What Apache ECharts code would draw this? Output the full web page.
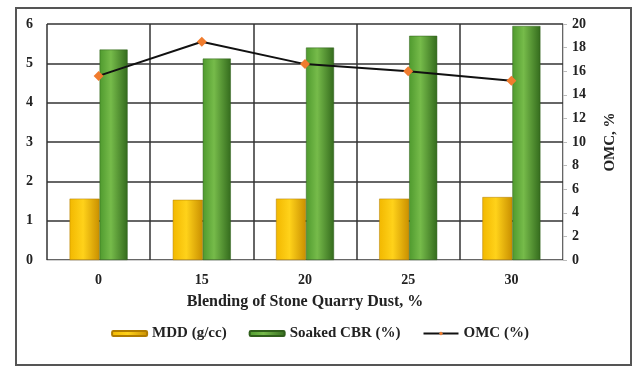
<!DOCTYPE html>
<html>
<head>
<meta charset="utf-8">
<script src="https://cdn.jsdelivr.net/npm/echarts@6/dist/echarts.min.js"></script>
<style>
  html, body { margin: 0; padding: 0; background: #fff; }
  #frame { position: absolute; left: 15px; top: 7px; width: 617px; height: 359px; border: 2px solid #555; box-sizing: border-box; }
  #chart { position: absolute; left: 0; top: 0; width: 640px; height: 369px; }
</style>
</head>
<body>
<div id="frame"></div>
<div id="chart"></div>
<script>
    // values
    var blending = ['0', '15', '20', '25', '30'];
    var mdd = [1.56, 1.53, 1.56, 1.56, 1.60];
    var soakedCbr = [5.35, 5.12, 5.40, 5.70, 5.95];
    var omc = [15.6, 18.5, 16.6, 16.0, 15.2];

    var font = 'Liberation Serif';

    var chart = echarts.init(document.getElementById('chart'));

    // bar fills, a bit of shading left to right
    var gold = new echarts.graphic.LinearGradient(0, 0, 1, 0, [
        {offset: 0, color: '#f2b800'},
        {offset: 0.45, color: '#ffd21a'},
        {offset: 1, color: '#c98f00'}
    ]);
    var green = new echarts.graphic.LinearGradient(0, 0, 1, 0, [
        {offset: 0, color: '#4f9a2e'},
        {offset: 0.4, color: '#76bb4a'},
        {offset: 1, color: '#346b1d'}
    ]);

    var option = {
        animation: false,
        textStyle: {fontFamily: font},
        grid: {left: 47, right: 77, top: 24, bottom: 109},
        legend: {
            top: 321,
            left: 'center',
            itemWidth: 35,
            itemHeight: 5,
            itemGap: 22,
            textStyle: {fontFamily: font, fontWeight: 'bold', fontSize: 15, color: '#222'},
            data: ['MDD (g/cc)', 'Soaked CBR (%)', 'OMC (%)']
        },
        xAxis: {
            type: 'category',
            data: blending,
            name: 'Blending of Stone Quarry Dust, %',
            nameLocation: 'middle',
            nameGap: 34,
            nameTextStyle: {fontFamily: font, fontWeight: 'bold', fontSize: 16, color: '#222'},
            axisLine: {lineStyle: {color: '#d0d0d0'}},
            axisTick: {show: false},
            axisLabel: {fontFamily: font, fontWeight: 'bold', fontSize: 14, color: '#222', margin: 13},
            splitLine: {show: true, lineStyle: {color: '#333', width: 1.5}}
        },
        yAxis: [
            {
                type: 'value',
                min: 0,
                max: 6,
                interval: 1,
                axisLine: {show: false},
                axisTick: {show: false},
                axisLabel: {fontFamily: font, fontWeight: 'bold', fontSize: 14, color: '#222', margin: 14},
                splitLine: {lineStyle: {color: '#333', width: 1.5}}
            },
            {
                type: 'value',
                min: 0,
                max: 20,
                interval: 2,
                name: 'OMC, %',
                nameLocation: 'middle',
                nameGap: 40,
                nameTextStyle: {fontFamily: font, fontWeight: 'bold', fontSize: 15, color: '#222'},
                axisLine: {show: true, lineStyle: {color: '#d0d0d0'}},
                axisTick: {show: true, length: 4, lineStyle: {color: '#bbb'}},
                axisLabel: {fontFamily: font, fontWeight: 'bold', fontSize: 14, color: '#222', margin: 9},
                splitLine: {show: false}
            }
        ],
        series: [
            {
                name: 'MDD (g/cc)',
                type: 'bar',
                data: mdd,
                barWidth: 30,
                barGap: '0%',
                itemStyle: {color: gold, borderColor: '#b07c00', borderWidth: 0.5}
            },
            {
                name: 'Soaked CBR (%)',
                type: 'bar',
                data: soakedCbr,
                barWidth: 28,
                barGap: '0%',
                itemStyle: {color: green, borderColor: '#2f5e1a', borderWidth: 0.5}
            },
            {
                name: 'OMC (%)',
                type: 'line',
                yAxisIndex: 1,
                data: omc,
                symbol: 'diamond',
                symbolSize: 10,
                z: 5,
                lineStyle: {color: '#111', width: 2},
                itemStyle: {color: '#f07c2e'}
            }
        ]
    };

    chart.setOption(option);
</script>
</body>
</html>
